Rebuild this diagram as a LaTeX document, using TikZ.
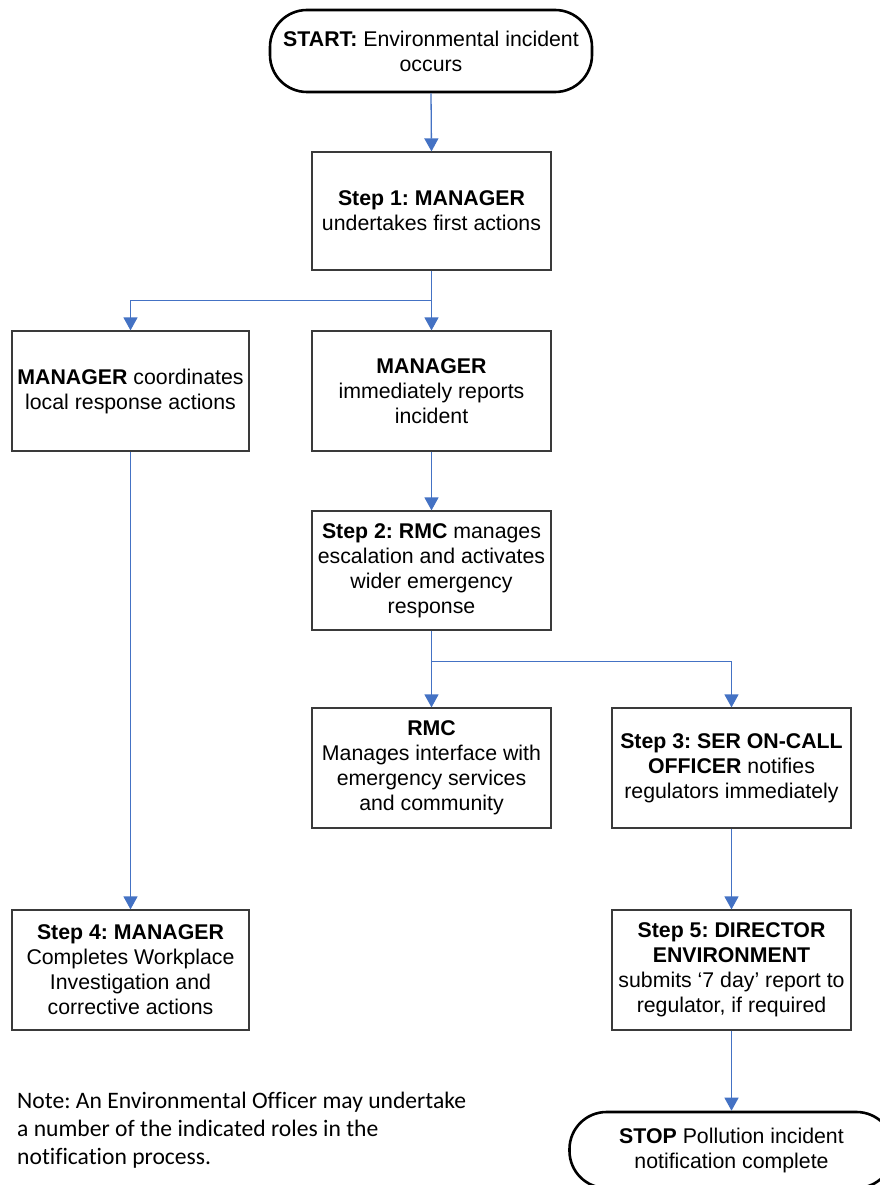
\documentclass[tikz,border=0pt]{standalone}
\usepackage{fontspec}
\setmainfont[Ligatures=NoCommon]{Liberation Sans}
\newfontfamily\notefont[Ligatures=NoCommon]{Carlito}
\usetikzlibrary{arrows.meta,calc}
\definecolor{arrowblue}{HTML}{4472C4}
\definecolor{boxline}{HTML}{3A3A3A}
\newcommand\boxfont{\fontsize{21.3}{25}\selectfont}
\frenchspacing
\begin{document}
\begin{tikzpicture}[x=1pt,y=-1pt,
  box/.style={draw=boxline, line width=1.2pt, align=center, inner sep=0pt, font=\boxfont},
  term/.style={draw=black, line width=2.6pt, rounded corners=37pt, align=center, inner sep=0pt, font=\boxfont},
  conn/.style={draw=arrowblue, line width=1.3pt},
  arr/.style={conn, -{Triangle[width=14pt,length=13pt]}},
  note/.style={font=\notefont\fontsize{23.6}{28}\selectfont, align=left, inner sep=0pt, anchor=north west}]
\clip (0,0) rectangle (880,1185);
\fill[white] (0,0) rectangle (880,1185);

\node[term, minimum width=322pt, minimum height=82pt] (start) at (431,51)
  {\textbf{START:} Environmental incident\\occurs};
\node[box, minimum width=239pt, minimum height=118pt] (s1) at (431.5,211)
  {\textbf{Step 1: MANAGER}\\undertakes first actions};
\node[box, minimum width=237pt, minimum height=120pt] (mc) at (130.5,391)
  {\textbf{MANAGER} coordinates\\local response actions};
\node[box, minimum width=239pt, minimum height=120pt] (mr) at (431.5,391)
  {\textbf{MANAGER}\\immediately reports\\incident};
\node[box, minimum width=239pt, minimum height=119pt] (s2) at (431.5,570.5)
  {\textbf{Step 2: RMC} manages\\escalation and activates\\wider emergency\\response};
\node[box, minimum width=239pt, minimum height=120pt] (rmc) at (431.5,768)
  {\textbf{RMC}\\Manages interface with\\emergency services\\and community};
\node[box, minimum width=239pt, minimum height=120pt] (s3) at (731.5,768)
  {\textbf{Step 3: SER ON-CALL}\\\textbf{OFFICER} notifies\\regulators immediately};
\node[box, minimum width=237pt, minimum height=120pt] (s4) at (130.5,970)
  {\textbf{Step 4: MANAGER}\\Completes Workplace\\Investigation and\\corrective actions};
\node[box, minimum width=239pt, minimum height=120pt] (s5) at (731.5,970)
  {\textbf{Step 5: DIRECTOR}\\\textbf{ENVIRONMENT}\\submits ‘7 day’ report to\\regulator, if required};
\node[term, minimum width=324pt, minimum height=76pt] (stop) at (731.5,1150)
  {\textbf{STOP} Pollution incident\\notification complete};

\node[note] (nt) at (17,1092)
  {Note: An Environmental Officer may undertake\\a number of the indicated roles in the\\notification process.};

\coordinate (b1) at ($(s1.south)+(0,30)$);
\coordinate (b2) at ($(s2.south)+(0,31)$);

\draw[arr] (start.south) -- (s1.north);
\draw[conn] (s1.south) -- (b1);
\draw[arr] (b1) -| (mc.north);
\draw[arr] (b1) -- (mr.north);
\draw[arr] (mr.south) -- (s2.north);
\draw[conn] (s2.south) -- (b2);
\draw[arr] (b2) -- (rmc.north);
\draw[arr] (b2) -| (s3.north);
\draw[arr] (mc.south) -- (s4.north);
\draw[arr] (s3.south) -- (s5.north);
\draw[arr] (s5.south) -- (stop.north);
\end{tikzpicture}
\end{document}
